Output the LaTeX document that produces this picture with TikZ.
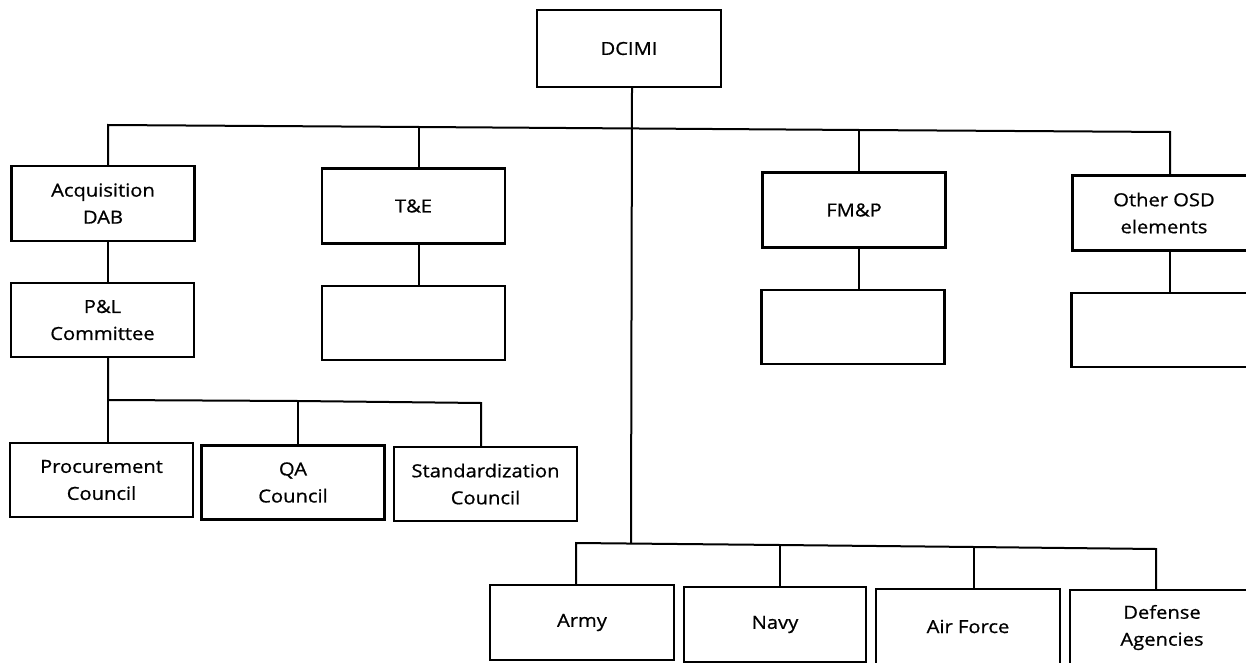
\documentclass[tikz,border=0pt]{standalone}
\usepackage{fontspec}
\setmainfont{Open Sans}[FakeStretch=1.12, FakeBold=0.8]
\begin{document}
\begin{tikzpicture}[x=1pt,y=-1pt,
  box/.style={draw, line width=2.2pt, inner sep=0pt, align=center,
    minimum width=183pt, minimum height=75pt,
    font=\fontsize{18}{27}\selectfont},
  conn/.style={line width=2pt}]
\clip (0,0) rectangle (1246,663);
% top
\node[box, minimum width=184pt, minimum height=77pt] (dcimi) at (629,48.5) {DCIMI};
% second row
\node[box] (acq) at (103,203.5) {Acquisition\\DAB};
\node[box] (te) at (413.5,206) {T\&E};
\node[box] (fmp) at (854,210) {FM\&P};
\node[box] (osd) at (1164,213) {Other OSD\\elements};
% third row
\node[box, minimum height=74pt] (pl) at (102.5,320) {P\&L\\Committee};
\node[box, minimum height=74pt] (tec) at (413.5,323) {};
\node[box, minimum height=74pt] (fmpc) at (853,327) {};
\node[box, minimum height=74pt] (osdc) at (1163,330) {};
% councils
\node[box, minimum height=74pt] (proc) at (101.5,480) {Procurement\\Council};
\node[box, minimum height=74pt] (qa) at (293,482.5) {QA\\Council};
\node[box, minimum height=74pt] (std) at (485.5,484) {Standardization\\Council};
% services
\node[box, minimum width=184pt] (army) at (582,622.5) {Army};
\node[box, minimum width=182pt] (navy) at (775,624.5) {Navy};
\node[box, minimum width=184pt] (af) at (968,626.5) {Air Force};
\node[box, minimum width=184pt] (def) at (1162,627.5) {Defense\\Agencies};
% main bus
\coordinate (m1) at (108,125);
\coordinate (m2) at (419,127);
\coordinate (m3) at (859,130);
\coordinate (m4) at (1170,132);
\coordinate (dtop) at (632,87);
\coordinate (dbot) at (631,543);
\draw[conn] (acq.north -| m1) -- (m1) -- (m2) -- (m3) -- (m4) -- (m4 |- osd.north);
\draw[conn] (m2) -- (m2 |- te.north);
\draw[conn] (m3) -- (m3 |- fmp.north);
\draw[conn] (dcimi.south -| dtop) -- (dbot);
% second row to third row
\draw[conn] (acq.south -| m1) -- (pl.north -| m1);
\draw[conn] (te.south -| m2) -- (tec.north -| m2);
\draw[conn] (fmp.south -| m3) -- (fmpc.north -| m3);
\draw[conn] (osd.south -| m4) -- (osdc.north -| m4);
% P&L bus
\coordinate (p1) at (108,400);
\coordinate (p2) at (298,401);
\coordinate (p3) at (481,403);
\draw[conn] (pl.south -| p1) -- (p1) -- (p2) -- (p3) -- (p3 |- std.north);
\draw[conn] (p1) -- (p1 |- proc.north);
\draw[conn] (p2) -- (p2 |- qa.north);
% services bus
\coordinate (s1) at (576,543);
\coordinate (s2) at (780,545);
\coordinate (s3) at (974,547);
\coordinate (s4) at (1156,549);
\draw[conn] (army.north -| s1) -- (s1) -- (s2) -- (s3) -- (s4) -- (s4 |- def.north);
\draw[conn] (s2) -- (s2 |- navy.north);
\draw[conn] (s3) -- (s3 |- af.north);
\end{tikzpicture}
\end{document}
